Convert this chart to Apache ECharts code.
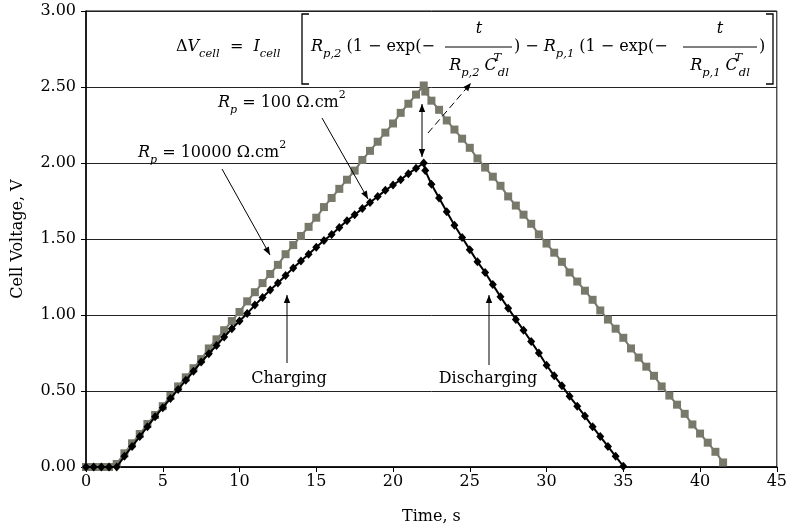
<!DOCTYPE html>
<html><head><meta charset="utf-8">
<script src="https://cdn.jsdelivr.net/npm/echarts@6/dist/echarts.min.js"></script>
<style>html,body{margin:0;padding:0;background:#fff}#c{width:790px;height:530px}</style>
</head><body><div id="c"></div>
<script>
// Rp = 10000 ohm.cm2 (grey squares)
const timeHigh = [0,0.5,1,1.5,2,2.5,3,3.5,4,4.5,5,5.5,6,6.5,7,7.5,8,8.5,9,9.5,10,10.5,11,11.5,12,12.5,13,13.5,14,14.5,15,15.5,16,16.5,17,17.5,18,18.5,19,19.5,20,20.5,21,21.5,22,
  22.1,22.5,23,23.5,24,24.5,25,25.5,26,26.5,27,27.5,28,28.5,29,29.5,30,30.5,31,31.5,32,32.5,33,33.5,34,34.5,35,35.5,36,36.5,37,37.5,38,38.5,39,39.5,40,40.5,41,41.5];
const voltHigh = [0,0,0,0,0.02,0.09,0.156,0.217,0.283,0.342,0.40,0.467,0.53,0.59,0.65,0.71,0.78,0.84,0.90,0.96,1.02,1.09,1.15,1.21,1.27,1.33,1.40,1.46,1.52,1.58,1.64,1.71,1.77,1.83,1.89,1.95,2.02,2.08,2.14,2.20,2.26,2.33,2.39,2.45,2.51,
  2.47,2.41,2.35,2.28,2.22,2.16,2.10,2.03,1.97,1.91,1.85,1.78,1.72,1.66,1.60,1.53,1.47,1.41,1.35,1.28,1.22,1.16,1.10,1.03,0.97,0.91,0.85,0.78,0.72,0.66,0.60,0.53,0.47,0.41,0.35,0.28,0.22,0.16,0.10,0.03];
// Rp = 100 ohm.cm2 (black diamonds)
const timeLow = [0,0.5,1,1.5,2,2.5,3,3.5,4,4.5,5,5.5,6,6.5,7,7.5,8,8.5,9,9.5,10,10.5,11,11.5,12,12.5,13,13.5,14,14.5,15,15.5,16,16.5,17,17.5,18,18.5,19,19.5,20,20.5,21,21.5,22,
  22.1,22.5,23,23.5,24,24.5,25,25.5,26,26.5,27,27.5,28,28.5,29,29.5,30,30.5,31,31.5,32,32.5,33,33.5,34,34.5,35];
const voltLow = [0,0,0,0,0.00,0.07,0.135,0.20,0.265,0.33,0.39,0.45,0.51,0.57,0.63,0.69,0.745,0.80,0.855,0.91,0.96,1.01,1.065,1.115,1.165,1.21,1.26,1.31,1.355,1.40,1.445,1.49,1.53,1.575,1.62,1.66,1.70,1.74,1.78,1.82,1.855,1.89,1.93,1.965,2.00,
  1.95,1.86,1.77,1.68,1.59,1.51,1.43,1.35,1.28,1.20,1.12,1.045,0.97,0.90,0.825,0.75,0.67,0.60,0.535,0.465,0.40,0.335,0.265,0.20,0.135,0.07,0.005];

const FONT = 'DejaVu Serif';
const chart = echarts.init(document.getElementById('c'), null, {renderer: 'canvas'});

const rich = {
  n: {fontFamily: FONT, fontSize: 16, lineHeight: 27, verticalAlign: 'middle', color: '#000'},
  i: {fontFamily: FONT, fontStyle: 'italic', fontSize: 16, lineHeight: 27, verticalAlign: 'middle', color: '#000'},
  sub: {fontFamily: FONT, fontStyle: 'italic', fontSize: 11.5, lineHeight: 12, verticalAlign: 'bottom', color: '#000'},
  supi: {fontFamily: FONT, fontStyle: 'italic', fontSize: 11.5, lineHeight: 12, verticalAlign: 'top', color: '#000', width: 1},
  ln: {fontFamily: FONT, fontSize: 16, lineHeight: 26, verticalAlign: 'middle', color: '#000'},
  li: {fontFamily: FONT, fontStyle: 'italic', fontSize: 16, lineHeight: 26, verticalAlign: 'middle', color: '#000'},
  lsub: {fontFamily: FONT, fontStyle: 'italic', fontSize: 11, lineHeight: 12, verticalAlign: 'bottom', color: '#000'},
  lsup: {fontFamily: FONT, fontSize: 11, lineHeight: 12, verticalAlign: 'top', color: '#000'}
};

function txt(x, y, text, align) {
  return {type: 'text', silent: true, z: 100,
    style: {x: x, y: y, text: text, rich: rich, fill: '#000', font: '16px "' + FONT + '"',
      align: align || 'left', textAlign: align || 'left', verticalAlign: 'middle', textVerticalAlign: 'middle'}};
}
function head(xa, ya, xb, yb) {
  const ang = Math.atan2(yb - ya, xb - xa), L = 8, W = 3.2;
  const bx = xb - L * Math.cos(ang), by = yb - L * Math.sin(ang);
  const px = -Math.sin(ang) * W, py = Math.cos(ang) * W;
  return {type: 'polygon', silent: true, z: 100, shape: {points: [[xb, yb], [bx + px, by + py], [bx - px, by - py]]}, style: {fill: '#000'}};
}
function arrow(x1, y1, x2, y2, dash, both) {
  const els = [{type: 'line', silent: true, z: 100, shape: {x1: x1, y1: y1, x2: x2, y2: y2},
    style: {stroke: '#000', lineWidth: 1, lineDash: dash ? [7, 4] : null}}];
  els.push(head(x1, y1, x2, y2));
  if (both) els.push(head(x2, y2, x1, y1));
  return els;
}
function poly(points, w) {
  return {type: 'polyline', silent: true, z: 100, shape: {points: points}, style: {stroke: '#000', lineWidth: w || 1.3, fill: null}};
}
function hline(x1, x2, y) {
  return {type: 'line', silent: true, z: 100, shape: {x1: x1, y1: y, x2: x2, y2: y}, style: {stroke: '#000', lineWidth: 1}};
}

const graphics = [].concat(
  // formula
  [txt(176, 47, '{n|Δ}{i|V}{sub|cell}{n|  =  }{i|I}{sub|cell}')],
  [poly([[309, 14], [302, 14], [302, 84], [309, 84]])],
  [txt(311, 47, '{i|R}{sub|p,2}{n| (1 − exp(− }')],
  [txt(479, 29, '{i|t}', 'center'), hline(445, 512, 47), txt(479, 66, '{i|R}{sub|p,2}{n| }{i|C}{supi|T}{sub|dl}', 'center')],
  [txt(514, 47, '{n|) − }{i|R}{sub|p,1}{n| (1 − exp(− }')],
  [txt(720, 29, '{i|t}', 'center'), hline(683, 757, 47), txt(720, 66, '{i|R}{sub|p,1}{n| }{i|C}{supi|T}{sub|dl}', 'center')],
  [txt(759, 47, '{n|)}')],
  [poly([[766, 14], [773, 14], [773, 84], [766, 84]])],
  // labels
  [txt(218, 103, '{li|R}{lsub|p}{ln| = 100 Ω.cm}{lsup|2}')],
  [txt(138, 153, '{li|R}{lsub|p}{ln| = 10000 Ω.cm}{lsup|2}')],
  [txt(289, 379, '{ln|Charging}', 'center')],
  [txt(488, 379, '{ln|Discharging}', 'center')],
  arrow(222, 169, 270, 255),
  arrow(322, 118, 368, 199),
  arrow(287, 363, 287, 295),
  arrow(489, 365, 489, 295),
  arrow(422, 104, 422, 157, false, true),
  arrow(428, 133, 471, 83, true)
);

chart.setOption({
  animation: false,
  backgroundColor: '#fff',
  grid: {left: 86, right: 13, top: 11, bottom: 63, show: true, borderColor: '#000', borderWidth: 1},
  xAxis: {
    type: 'value', min: 0, max: 45, interval: 5,
    name: 'Time, s', nameLocation: 'middle', nameGap: 42,
    nameTextStyle: {fontFamily: FONT, fontSize: 16, color: '#000'},
    axisLine: {onZero: false, lineStyle: {color: '#000', width: 1.5}},
    axisTick: {inside: false, length: 5, lineStyle: {color: '#000'}},
    axisLabel: {fontFamily: FONT, fontSize: 16, color: '#000', margin: 7},
    splitLine: {show: false}
  },
  yAxis: {
    type: 'value', min: 0, max: 3, interval: 0.5,
    name: 'Cell Voltage, V', nameLocation: 'middle', nameGap: 60, nameRotate: 90,
    nameTextStyle: {fontFamily: FONT, fontSize: 16, color: '#000'},
    axisLine: {show: true, lineStyle: {color: '#000', width: 1.5}},
    axisTick: {show: true, inside: false, length: 5, lineStyle: {color: '#000'}},
    axisLabel: {fontFamily: FONT, fontSize: 16, color: '#000', margin: 10, formatter: v => v.toFixed(2)},
    splitLine: {show: true, lineStyle: {color: '#222', width: 1}}
  },
  series: [
    {
      name: 'Rp = 10000', type: 'line', data: timeHigh.map((t, k) => [t, voltHigh[k]]),
      symbol: 'rect', symbolSize: 8, showAllSymbol: true,
      lineStyle: {color: '#78796b', width: 2}, itemStyle: {color: '#78796b'}, z: 3
    },
    {
      name: 'Rp = 100', type: 'line', data: timeLow.map((t, k) => [t, voltLow[k]]),
      symbol: 'diamond', symbolSize: [8, 9], showAllSymbol: true,
      lineStyle: {color: '#000', width: 2}, itemStyle: {color: '#000'}, z: 4
    }
  ],
  graphic: graphics
});
</script></body></html>
